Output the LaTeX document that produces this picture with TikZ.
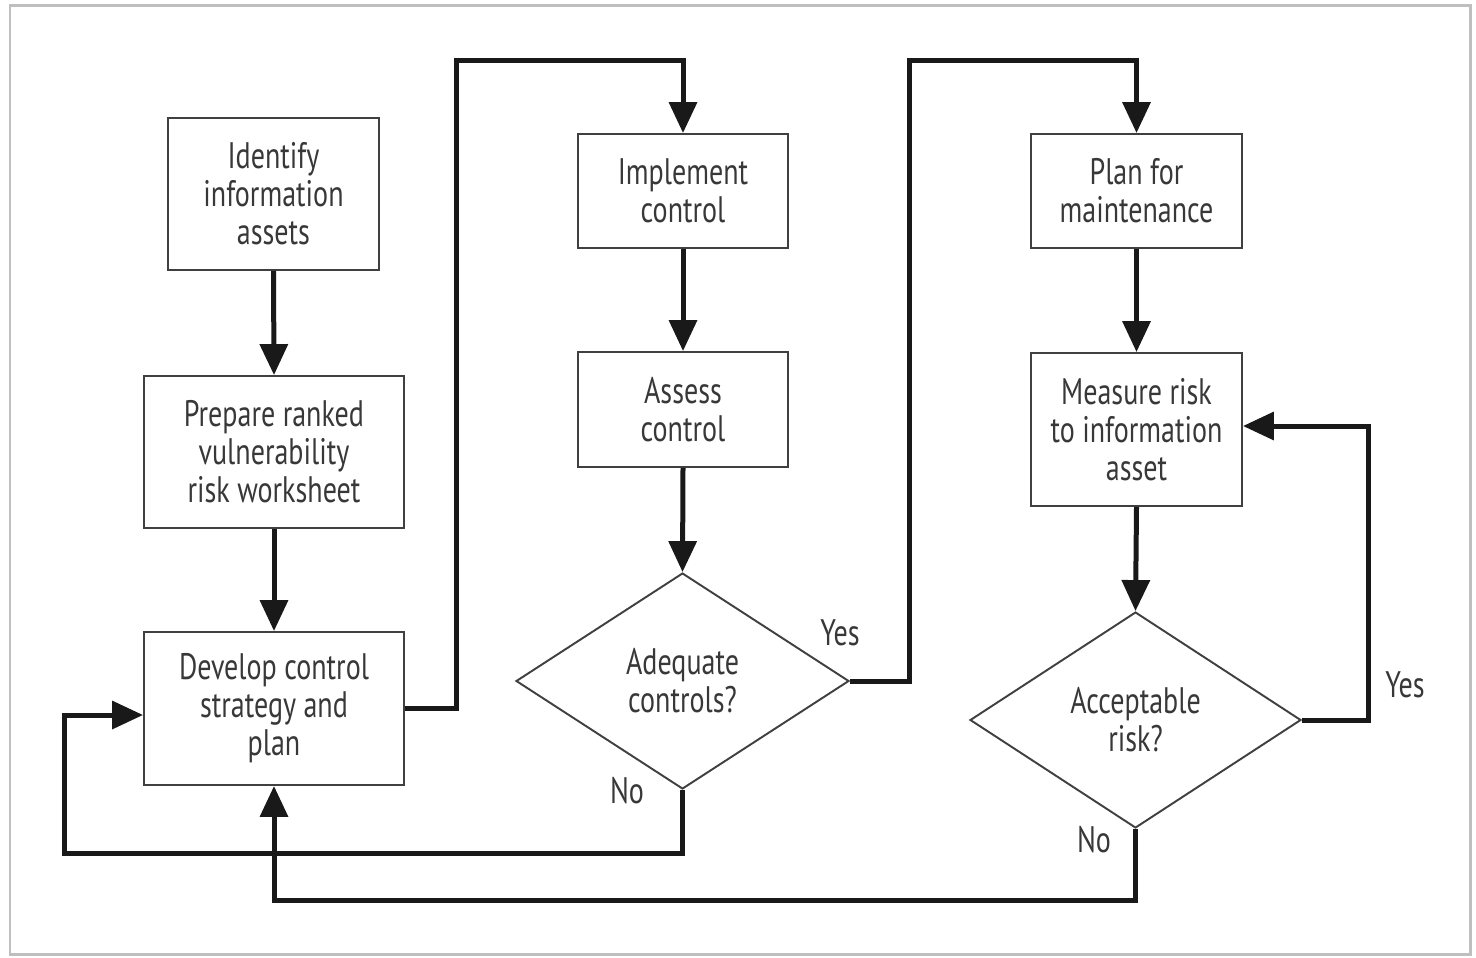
\documentclass[tikz,border=0pt]{standalone}
\usepackage{fontspec}
\setmainfont{PT Sans}[FakeStretch=0.76]
\usetikzlibrary{arrows.meta,shapes.geometric}
\begin{document}
\begin{tikzpicture}[x=0.02cm,y=-0.02cm,
  txt/.style={font=\fontsize{21}{21.6}\selectfont, text=black!78, align=center},
  box/.style={txt, draw=black!75, line width=1.1pt, inner sep=0pt},
  dia/.style={txt, diamond, draw=black!75, line width=1.1pt, inner sep=0pt},
  conn/.style={line width=0.1cm, black!90},
  arr/.style={conn, -{Triangle[length=0.62cm,width=0.55cm]}}]
\useasboundingbox (0,0) rectangle (1476,957);
\draw[gray!50, line width=0.06cm] (10,5) rectangle (1470,954);
% nodes
\node[box, minimum width=4.22cm, minimum height=3.04cm] (b1) at (273.5,194) {Identify\\information\\assets};
\node[box, minimum width=5.2cm, minimum height=3.04cm] (b2) at (274,452) {Prepare ranked\\vulnerability\\risk worksheet};
\node[box, minimum width=5.2cm, minimum height=3.06cm] (b3) at (274,708.5) {Develop control\\strategy and\\plan};
\node[box, minimum width=4.2cm, minimum height=2.28cm] (b4) at (683,191) {Implement\\control};
\node[box, minimum width=4.2cm, minimum height=2.3cm] (b5) at (683,409.5) {Assess\\control};
\node[dia, minimum width=6.66cm, minimum height=4.32cm] (d1) at (682.5,681) {Adequate\\controls?};
\node[box, minimum width=4.22cm, minimum height=2.28cm] (b6) at (1136.5,191) {Plan for\\maintenance};
\node[box, minimum width=4.22cm, minimum height=3.06cm] (b7) at (1136.5,429.5) {Measure risk\\to information\\asset};
\node[dia, minimum width=6.62cm, minimum height=4.32cm] (d2) at (1135.5,720) {Acceptable\\risk?};
% labels
\node[txt] (y1) at (840,633) {Yes};
\node[txt] (n1) at (627,791) {No};
\node[txt] (y2) at (1405,685) {Yes};
\node[txt] (n2) at (1094,840) {No};
% coordinates
\coordinate (t1) at (456,60);
\coordinate (t2) at (909,60);
\coordinate (r1) at (1368,426);
\coordinate (bt) at (1136,900);
\coordinate (lb) at (64,853);
\coordinate (lc) at (64,715);
% connectors
\draw[arr] (b1.south) -- (b2.north);
\draw[arr] (b2.south) -- (b3.north);
\draw[arr] (b3.east) -| (t1) -| (b4.north);
\draw[arr] (b4.south) -- (b5.north);
\draw[arr] (b5.south) -- (d1.north);
\draw[arr] (d1.east) -| (t2) -| (b6.north);
\draw[arr] (b6.south) -- (b7.north);
\draw[arr] (b7.south) -- (d2.north);
\draw[arr] (d2.east) -| (r1) -- (r1 -| b7.east);
\draw[arr] (d2.south) -- (d2.south |- bt) -| (b3.south);
\draw[arr] (d1.south) |- (lb) -- (lc) -- (lc -| b3.west);
\end{tikzpicture}
\end{document}
